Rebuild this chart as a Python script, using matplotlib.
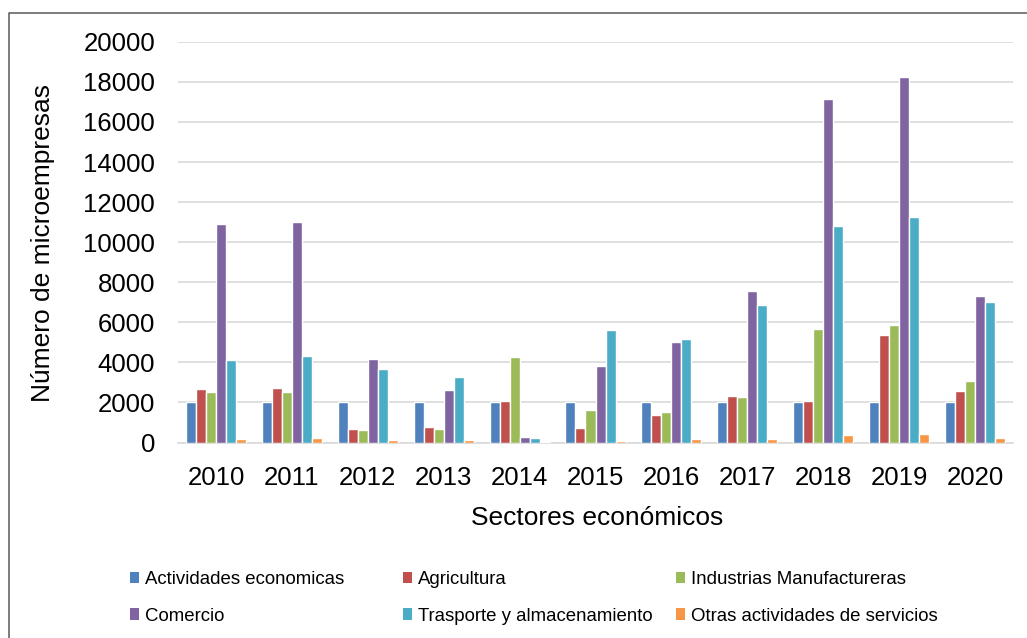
import matplotlib
matplotlib.use("Agg")
import matplotlib.pyplot as plt
import numpy as np
from matplotlib.lines import Line2D
from matplotlib.patches import Patch

plt.rcParams['font.family'] = ['Liberation Sans', 'DejaVu Sans']

years = ['2010', '2011', '2012', '2013', '2014', '2015', '2016', '2017', '2018', '2019', '2020']
actividades = [2000, 2000, 2000, 2000, 2000, 2000, 2000, 2000, 2000, 2000, 2000]
agricultura = [2680, 2700, 670, 750, 2070, 700, 1380, 2300, 2050, 5360, 2550]
industrias = [2500, 2500, 600, 680, 4280, 1620, 1530, 2270, 5660, 5880, 3080]
comercio = [10900, 11000, 4170, 2630, 270, 3830, 5000, 7560, 17150, 18220, 7330]
trasporte = [4130, 4330, 3670, 3270, 230, 5620, 5150, 6880, 10790, 11260, 7010]
otras = [180, 220, 100, 100, 20, 60, 150, 180, 380, 430, 230]

series_names = ['Actividades economicas', 'Agricultura', 'Industrias Manufactureras',
                'Comercio', 'Trasporte y almacenamiento', 'Otras actividades de servicios']
series_vals = [actividades, agricultura, industrias, comercio, trasporte, otras]
colors = ['#4F81BD', '#C0504D', '#9BBB59', '#8064A2', '#4BACC6', '#F79646']

W, H = 1027, 638
fig = plt.figure(figsize=(W / 100, H / 100), dpi=100)
ax = fig.add_axes([178 / W, 1 - 442.5 / H, (1013 - 178) / W, (442.5 - 41.8) / H])

x = np.arange(len(years))
pitch = 0.132
n = len(series_vals)
for i, (vals, c) in enumerate(zip(series_vals, colors)):
    off = (i - (n - 1) / 2) * pitch
    ax.bar(x + off, vals, width=pitch, color=c, edgecolor='white', linewidth=1.0, zorder=3)

ax.set_xlim(-0.5, len(years) - 0.5)
ax.set_ylim(0, 20000)
ax.set_yticks(np.arange(0, 20001, 2000))
ax.set_yticklabels([str(v) for v in range(0, 20001, 2000)])
ax.set_xticks(x)
ax.set_xticklabels(years)
ax.tick_params(axis='both', length=0, labelsize=18.5, colors='black')
ax.tick_params(axis='y', pad=16.5)
ax.tick_params(axis='x', pad=17)
ax.grid(axis='y', color='#D9D9D9', linewidth=1.2, zorder=0)
for s in ['top', 'right', 'left']:
    ax.spines[s].set_visible(False)
ax.spines['bottom'].set_color('#D9D9D9')
ax.spines['bottom'].set_linewidth(1.2)

fig.text(43 / W, 1 - 243 / H, 'Número de microempresas', rotation=90,
         ha='center', va='center', fontsize=19)
fig.text(597 / W, 1 - 525 / H, 'Sectores económicos', ha='center', va='baseline', fontsize=19)

# legend: three equal-width columns
col_x = [130, 403, 676]
order = [(0, 3), (1, 4), (2, 5)]
for cx, (a, b) in zip(col_x, order):
    handles = [Patch(facecolor=colors[a], edgecolor='none'), Patch(facecolor=colors[b], edgecolor='none')]
    leg = fig.legend(handles, [series_names[a], series_names[b]],
                     loc='center left', bbox_to_anchor=(cx / W, 1 - 598 / H),
                     bbox_transform=fig.transFigure, frameon=False, fontsize=13.4,
                     handlelength=0.5, handleheight=0.55, handletextpad=0.3,
                     labelspacing=1.03, borderpad=0, borderaxespad=0)

# outer border (top and left)
fig.add_artist(Line2D([9 / W, 9 / W, 1.0], [0.0, 1 - 13 / H, 1 - 13 / H],
                      transform=fig.transFigure, color='#595959', linewidth=1.1))

fig.savefig('out.png', dpi=100)
